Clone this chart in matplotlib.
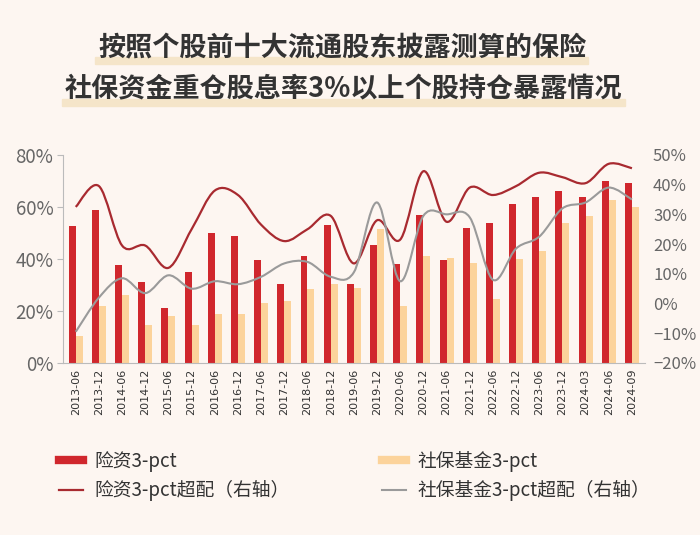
import numpy as np
import matplotlib
matplotlib.use("Agg")
import matplotlib.pyplot as plt
from matplotlib.path import Path
from matplotlib.patches import PathPatch, Rectangle
from matplotlib.lines import Line2D
from matplotlib.ticker import PercentFormatter

plt.rcParams['font.family'] = ['Noto Sans CJK SC', 'DejaVu Sans']

# data
dates = ["2013-06", "2013-12", "2014-06", "2014-12", "2015-06", "2015-12",
         "2016-06", "2016-12", "2017-06", "2017-12", "2018-06", "2018-12",
         "2019-06", "2019-12", "2020-06", "2020-12", "2021-06", "2021-12",
         "2022-06", "2022-12", "2023-06", "2023-12", "2024-03", "2024-06",
         "2024-09"]
insurance = [52.5, 59, 37.5, 31, 21, 35, 50, 49, 39.5, 30.5, 41, 53,
             30.5, 45.5, 38, 57, 39.5, 52, 54, 61, 64, 66, 64, 70, 69]
social = [10.5, 22, 26, 14.5, 18, 14.5, 19, 19, 23, 24, 28.5, 30.5,
          29, 51.5, 22, 41, 40.5, 38.5, 24.5, 40, 43, 54, 56.5, 62.5, 60]
insurance_over = [32.5, 39.5, 19.5, 19.5, 12, 25, 38, 36.5, 26.5, 21, 25, 29.5,
                  13.5, 28, 21.5, 44.5, 27.5, 39, 36.5, 39.5, 44, 42.5, 40.5, 47, 45.5]
social_over = [-9.5, 2, 8.5, 3.5, 9.5, 5, 7.5, 6.5, 9, 13.5, 14, 9,
               10.5, 34, 7.5, 29.5, 30, 29, 8, 18.5, 22.5, 32, 34, 39, 35]

bg = "#fdf6f1"
red = "#d0272d"
orange = "#fcd39b"
dark_red = "#a82a30"
gray = "#9a9a9a"


def smooth(xs, ys):
    pts = np.column_stack([xs, ys]).astype(float)
    n = len(pts)
    verts = [pts[0]]
    codes = [Path.MOVETO]
    for i in range(n - 1):
        p0 = pts[max(i - 1, 0)]
        p1 = pts[i]
        p2 = pts[i + 1]
        p3 = pts[min(i + 2, n - 1)]
        verts += [p1 + (p2 - p0) / 6, p2 - (p3 - p1) / 6, p2]
        codes += [Path.CURVE4] * 3
    return Path(verts, codes)


fig = plt.figure(figsize=(7, 5.35), dpi=100, facecolor=bg)
ax = fig.add_axes([0.09, 0.3215, 0.831, 0.389])
ax.set_facecolor(bg)
x = np.arange(len(dates))
w = 0.3
ax.bar(x - w / 2, insurance, w, color=red, zorder=2)
ax.bar(x + w / 2, social, w, color=orange, zorder=2)
ax.set_xlim(-0.55, len(dates) - 0.45)
ax.set_ylim(0, 80)
ax.set_yticks([0, 20, 40, 60, 80])
ax.yaxis.set_major_formatter(PercentFormatter(decimals=0))
ax.set_xticks(x)
ax.set_xticklabels(dates, rotation=90, fontsize=8, color="#333333", family="DejaVu Sans")
ax.tick_params(axis="x", length=0, pad=4)
ax.tick_params(axis="y", length=4, color="#bbbbbb", labelsize=13.5, labelcolor="#666666", pad=3)
for s in ["top", "right"]:
    ax.spines[s].set_visible(False)
ax.spines["left"].set_color("#bbbbbb")
ax.spines["bottom"].set_color("#bbbbbb")

ax2 = ax.twinx()
ax2.set_ylim(-20, 50)
ax2.set_yticks(range(-20, 51, 10))
ax2.yaxis.set_major_formatter(PercentFormatter(decimals=0))
ax2.tick_params(axis="y", length=0, labelsize=12, labelcolor="#666666", pad=6)
for s in ax2.spines.values():
    s.set_visible(False)
ax2.add_patch(PathPatch(smooth(x, insurance_over), fill=False, edgecolor=dark_red, lw=1.6, zorder=3))
ax2.add_patch(PathPatch(smooth(x, social_over), fill=False, edgecolor=gray, lw=1.5, zorder=3))

# title with highlight band
fig.patches.append(Rectangle((95 / 700, 1 - 64 / 535), 493 / 700, 7 / 535,
                             transform=fig.transFigure, color="#f5e5c9", zorder=0))
fig.patches.append(Rectangle((62 / 700, 1 - 106 / 535), 563 / 700, 7 / 535,
                             transform=fig.transFigure, color="#f5e5c9", zorder=0))
fig.text(0.49, 1 - 47 / 535, "按照个股前十大流通股东披露测算的保险", ha="center", va="center",
         fontsize=19.5, fontweight="bold", color="#333333")
fig.text(0.49, 1 - 89 / 535, "社保资金重仓股息率3%以上个股持仓暴露情况", ha="center", va="center",
         fontsize=19.5, fontweight="bold", color="#333333")

handles = [Line2D([], [], color=red, lw=6),
           Line2D([], [], color=dark_red, lw=1.6),
           Line2D([], [], color=orange, lw=6),
           Line2D([], [], color=gray, lw=1.5)]
labels = ["险资3-pct", "险资3-pct超配（右轴）", "社保基金3-pct", "社保基金3-pct超配（右轴）"]
fig.legend(handles, labels, ncol=2, loc="upper left", bbox_to_anchor=(0.06, 1 - 434 / 535),
           frameon=False, fontsize=13.5, handlelength=1.3, handletextpad=0.6,
           columnspacing=4.9, labelspacing=0.45, labelcolor="#333333")

fig.savefig("out.png", dpi=100, facecolor=bg)
